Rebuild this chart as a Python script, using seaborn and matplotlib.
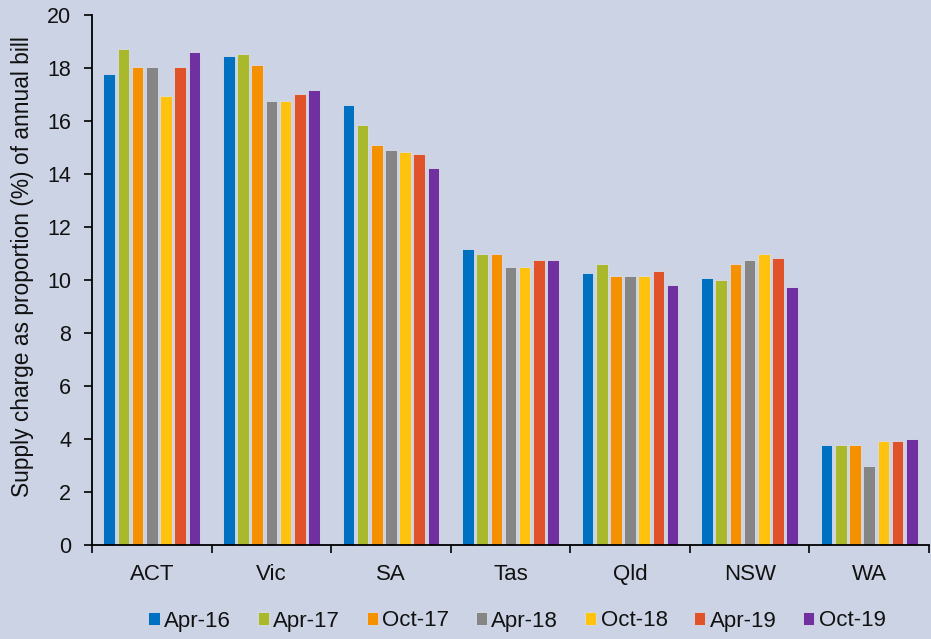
import matplotlib
matplotlib.use("Agg")
import matplotlib.pyplot as plt
import seaborn as sns
import pandas as pd
import numpy as np

states = ["ACT", "Vic", "SA", "Tas", "Qld", "NSW", "WA"]
periods = ["Apr-16", "Apr-17", "Oct-17", "Apr-18", "Oct-18", "Apr-19", "Oct-19"]
apr16 = [17.77, 18.45, 16.6, 11.18, 10.25, 10.09, 3.76]
apr17 = [18.72, 18.53, 15.85, 11.0, 10.59, 10.0, 3.76]
oct17 = [18.04, 18.11, 15.09, 11.0, 10.16, 10.59, 3.76]
apr18 = [18.04, 16.75, 14.9, 10.5, 10.16, 10.75, 3.0]
oct18 = [16.94, 16.75, 14.83, 10.5, 10.16, 11.0, 3.92]
apr19 = [18.04, 17.02, 14.75, 10.75, 10.33, 10.84, 3.92]
oct19 = [18.6, 17.17, 14.23, 10.75, 9.82, 9.75, 4.01]
colors = ["#0070C0", "#A9B92B", "#F59100", "#858585", "#FFC20E", "#E0532A", "#7030A0"]

series = [apr16, apr17, oct17, apr18, oct18, apr19, oct19]
rows = []
for p, vals in zip(periods, series):
    for s, v in zip(states, vals):
        rows.append({"State": s, "Period": p, "Value": v})
df = pd.DataFrame(rows)

bg = "#CBD3E4"
sns.set_theme(style="white")
plt.rcParams["font.family"] = ["Liberation Sans", "DejaVu Sans"]

fig = plt.figure(figsize=(9.31, 6.39), dpi=100, facecolor=bg)
ax = fig.add_axes([92 / 931, 1 - 545 / 639, (929 - 92) / 931, (545 - 15) / 639])
ax.set_facecolor(bg)

sns.barplot(data=df, x="State", y="Value", hue="Period", order=states,
            hue_order=periods, palette=colors, saturation=1, width=0.83, gap=0.18,
            edgecolor="#d8dde8", linewidth=0.6, ax=ax, legend=True)

ax.set_xlim(-0.5, len(states) - 0.5)
ax.set_ylim(0, 20)
ax.set_yticks(np.arange(0, 21, 2))
ax.set_xlabel("")
ax.set_ylabel("Supply charge as proportion (%) of annual bill", fontsize=16.4, color="#111111")
ax.yaxis.set_label_coords(-0.069, 0.5245)
for sp in ["top", "right"]:
    ax.spines[sp].set_visible(False)
for sp in ["left", "bottom"]:
    ax.spines[sp].set_color("black")
    ax.spines[sp].set_linewidth(1.3)

ax.tick_params(axis="y", which="major", direction="out", length=6, width=1.2, color="black",
               labelsize=15.5, labelcolor="#111111", left=True, pad=9)
ax.tick_params(axis="x", which="major", length=0, labelsize=16, labelcolor="#111111", pad=14)
ax.set_xticks(np.arange(-0.5, len(states), 1.0), minor=True)
ax.tick_params(axis="x", which="minor", direction="out", length=6, width=1.2, color="black", bottom=True)

handles, labels = ax.get_legend_handles_labels()
leg = ax.legend(handles, labels, loc="center", bbox_to_anchor=((517 - 92) / 837, -(621 - 545) / 530),
                ncol=7, frameon=False, fontsize=16, handlelength=0.5, handleheight=0.5,
                handletextpad=0.2, columnspacing=1.2, borderaxespad=0)
for t in leg.get_texts():
    t.set_color("#111111")

fig.savefig("out.png", dpi=100, facecolor=bg)
